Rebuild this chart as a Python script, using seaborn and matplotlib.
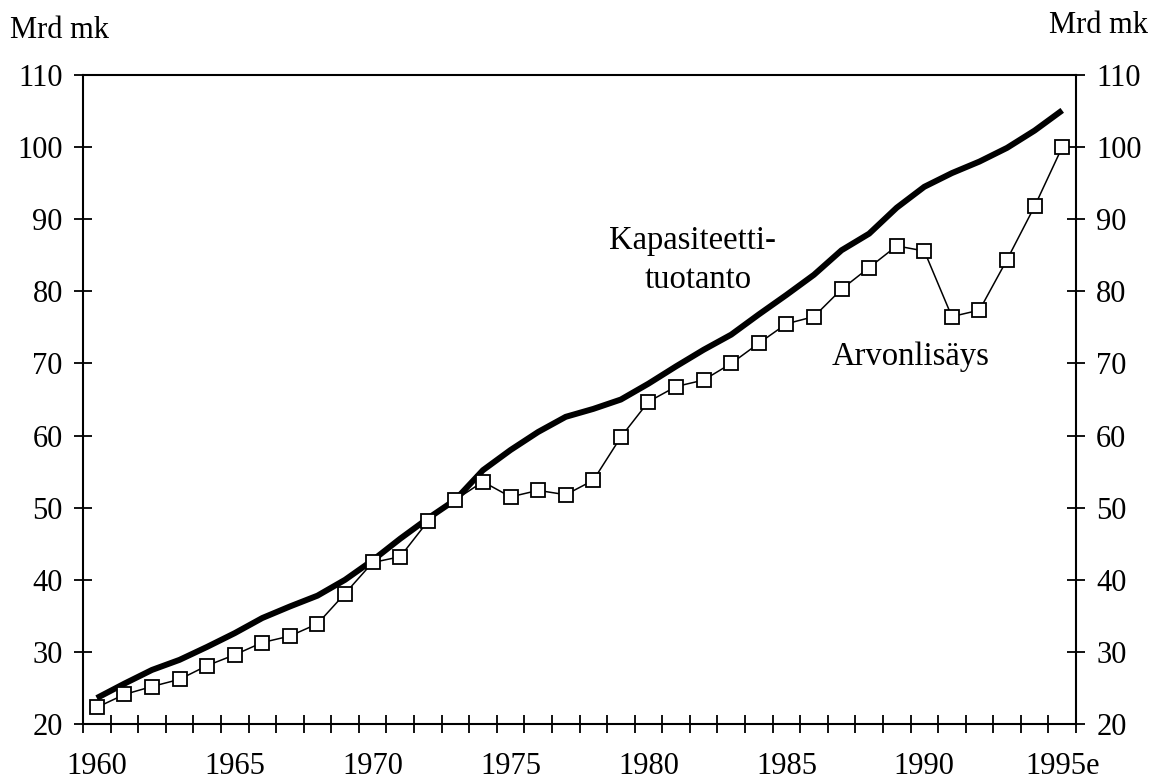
import numpy as np
import pandas as pd
import matplotlib
matplotlib.use("Agg")
import matplotlib.pyplot as plt
import seaborn as sns

years = list(range(1960, 1996))
x_labels = ["1960", "1965", "1970", "1975", "1980", "1985", "1990", "1995e"]
y_ticks = [20, 30, 40, 50, 60, 70, 80, 90, 100, 110]

kapasiteetti = [23.6, 25.6, 27.5, 28.9, 30.7, 32.6, 34.7, 36.3, 37.8, 40.0,
                42.7, 45.7, 48.5, 51.1, 55.2, 58.0, 60.5, 62.6, 63.7, 65.0,
                67.2, 69.6, 71.9, 74.0, 76.8, 79.5, 82.3, 85.7, 88.0, 91.6,
                94.5, 96.4, 98.0, 99.9, 102.3, 105.1]
arvonlisays = [22.3, 24.1, 25.2, 26.2, 28.1, 29.6, 31.3, 32.2, 33.9, 38.1,
               42.4, 43.2, 48.1, 51.1, 53.6, 51.5, 52.4, 51.8, 53.8, 59.8,
               64.7, 66.8, 67.7, 70.0, 72.8, 75.5, 76.5, 80.3, 83.3, 86.3,
               85.6, 76.5, 77.4, 84.4, 91.8, 100.0]

df = pd.DataFrame({"vuosi": years, "Kapasiteettituotanto": kapasiteetti,
                   "Arvonlisäys": arvonlisays})

sns.set_style("ticks")
plt.rcParams['font.family'] = ['Liberation Serif', 'DejaVu Serif']
plt.rcParams['font.size'] = 22
for k in ['text.color', 'axes.labelcolor', 'xtick.color', 'ytick.color',
          'axes.edgecolor']:
    plt.rcParams[k] = 'black'

fig = plt.figure(figsize=(11.56, 7.84), dpi=100)
ax = fig.add_axes([0.0718, 0.0765, 0.859, 0.8278])

sns.lineplot(data=df, x="vuosi", y="Kapasiteettituotanto", ax=ax,
             color="black", linewidth=4.3, solid_capstyle="butt")
sns.lineplot(data=df, x="vuosi", y="Arvonlisäys", ax=ax,
             color="black", linewidth=1.1, marker="s", markersize=10.5,
             markerfacecolor="white", markeredgecolor="black",
             markeredgewidth=1.3)

ax.set_xlim(years[0] - 0.5, years[-1] + 0.5)
ax.set_ylim(20, 110)
ax.set_xlabel("")
ax.set_ylabel("")

label_pos = [int(l[:4]) for l in x_labels]
ax.set_xticks(label_pos)
ax.set_xticklabels(x_labels, fontsize=22)
ax.set_xticks([y - 0.5 for y in years] + [years[-1] + 0.5], minor=True)
ax.tick_params(axis="x", which="major", length=0, pad=20)
ax.tick_params(axis="x", which="minor", length=13, width=1.3,
               direction="inout", bottom=True, top=False)

ax.set_yticks(y_ticks)
ax.set_yticklabels([str(v) for v in y_ticks], fontsize=22)
ax.tick_params(axis="y", which="major", length=13, width=1.3,
               direction="inout", left=True, right=True,
               labelleft=True, labelright=True, pad=8)

for s in ax.spines.values():
    s.set_visible(True)
    s.set_linewidth(1.5)
    s.set_color("black")

ax.text(-0.0735, 1.069, "Mrd mk", transform=ax.transAxes, fontsize=22,
        ha="left", va="center")
ax.text(1.0725, 1.077, "Mrd mk", transform=ax.transAxes, fontsize=22,
        ha="right", va="center")

ax.text(1981.6, 87.0, "Kapasiteetti-", fontsize=23.5, ha="center", va="center")
ax.text(1981.8, 81.6, "tuotanto", fontsize=23.5, ha="center", va="center")
ax.text(1989.5, 70.9, "Arvonlisäys", fontsize=23.5, ha="center", va="center")

fig.savefig("out.png", dpi=100, facecolor="white")
